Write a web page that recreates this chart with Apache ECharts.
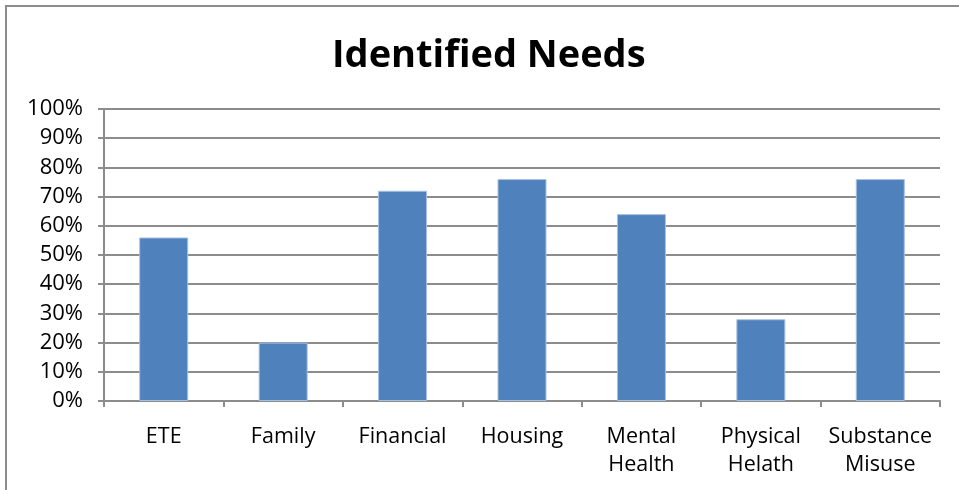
<!DOCTYPE html>
<html>
<head>
<meta charset="utf-8">
<script src="https://cdn.jsdelivr.net/npm/echarts@6/dist/echarts.min.js"></script>
<style>
  html, body { margin: 0; padding: 0; background: #fff; }
  #chart { width: 959px; height: 490px; }
</style>
</head>
<body>
<div id="chart"></div>
<script>
// Share of cases with each identified need
const categories = ['ETE', 'Family', 'Financial', 'Housing', 'Mental\nHealth', 'Physical\nHelath', 'Substance\nMisuse'];
const needValues = [56, 20, 72, 76, 64, 28, 76];
const yTicks = [0, 10, 20, 30, 40, 50, 60, 70, 80, 90, 100];

const FONT = '"Open Sans", Lato, sans-serif';
const chart = echarts.init(document.getElementById('chart'));

chart.setOption({
  animation: false,
  backgroundColor: '#fff',
  graphic: [{
    type: 'rect',
    shape: { x: 6, y: 6, width: 1000, height: 1000 },
    style: { fill: 'none', stroke: '#8c8c8c', lineWidth: 2 },
    silent: true
  }],
  title: {
    text: 'Identified Needs',
    left: 327,
    top: 32,
    textStyle: { fontFamily: FONT, fontSize: 38, fontWeight: 'bold', color: '#000' }
  },
  grid: { left: 104, right: 19, top: 109, bottom: 89, containLabel: false },
  xAxis: {
    type: 'category',
    data: categories,
    axisLine: { lineStyle: { color: '#8c8c8c', width: 2 } },
    axisTick: { show: true, alignWithLabel: false, length: 6, lineStyle: { color: '#8c8c8c', width: 2 } },
    axisLabel: {
      interval: 0, margin: 22, color: '#000',
      fontFamily: FONT, fontSize: 21.5, lineHeight: 28
    }
  },
  yAxis: {
    type: 'value',
    min: 0, max: 100, interval: 10,
    axisLine: { show: true, lineStyle: { color: '#8c8c8c', width: 2 } },
    axisTick: { show: true, length: 6, lineStyle: { color: '#8c8c8c', width: 2 } },
    splitLine: { lineStyle: { color: '#8c8c8c', width: 2 } },
    axisLabel: {
      margin: 21, color: '#000', fontFamily: FONT, fontSize: 22,
      formatter: v => (yTicks.includes(v) ? v + '%' : '')
    }
  },
  series: [{
    type: 'bar',
    data: needValues,
    barWidth: 49,
    itemStyle: { color: '#4f81bd', borderColor: '#a8c0e0', borderWidth: 1 }
  }]
});
</script>
</body>
</html>
